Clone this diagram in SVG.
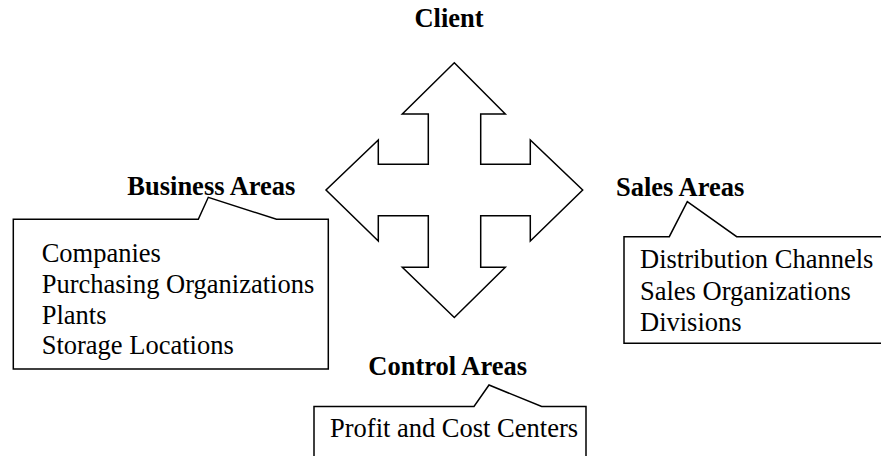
<svg xmlns="http://www.w3.org/2000/svg" width="881" height="456" viewBox="0 0 881 456">
<style>
  .shape { fill: #ffffff; stroke: #000000; stroke-width: 1.5; stroke-linejoin: miter; }
  .title { font-family: "Liberation Serif", "Times New Roman", serif; font-size: 26.5px; font-weight: bold; fill: #000000; }
  .item { font-family: "Liberation Serif", "Times New Roman", serif; font-size: 26.5px; fill: #000000; }
</style>
<rect x="0" y="0" width="881" height="456" fill="#ffffff"/>
<g id="client">
  <text class="title" x="449" y="27.3" text-anchor="middle">Client</text>
</g>
<g id="connectors">
  <polygon class="shape" points="454.3,62.7 505.3,114 480.7,114 480.7,164.3 530.3,164.3 530.3,140 582.7,190 530.3,241 530.3,215.7 480.7,215.7 480.7,267.3 505.3,267.3 454.3,317.5 402.3,267.3 428.3,267.3 428.3,215.7 378.3,215.7 378.3,241 326,190 378.3,140 378.3,164.3 428.3,164.3 428.3,114 402.3,114"/>
</g>
<g id="business-areas">
  <text class="title" x="127.3" y="195">Business Areas</text>
  <path class="shape" d="M13.3,219.3 H198.3 L208.3,197.3 L276.5,219.3 H328.3 V369 H13.3 Z"/>
  <text class="item" x="41.7" y="262">Companies</text>
  <text class="item" x="41.7" y="293">Purchasing Organizations</text>
  <text class="item" x="41.7" y="323.5">Plants</text>
  <text class="item" x="41.7" y="354">Storage Locations</text>
</g>
<g id="sales-areas">
  <text class="title" x="616" y="196">Sales Areas</text>
  <path class="shape" d="M624,236.7 H669.3 L687.3,201.7 L736.7,236.7 H895 V343.3 H624 Z"/>
  <text class="item" x="640" y="268">Distribution Channels</text>
  <text class="item" x="640" y="299.5">Sales Organizations</text>
  <text class="item" x="640" y="331">Divisions</text>
</g>
<g id="control-areas">
  <text class="title" x="368.3" y="375">Control Areas</text>
  <path class="shape" d="M314,406.5 H474 L489,385 L541.7,406.5 H586 V470 H314 Z"/>
  <text class="item" x="330" y="437.3">Profit and Cost Centers</text>
</g>
</svg>
